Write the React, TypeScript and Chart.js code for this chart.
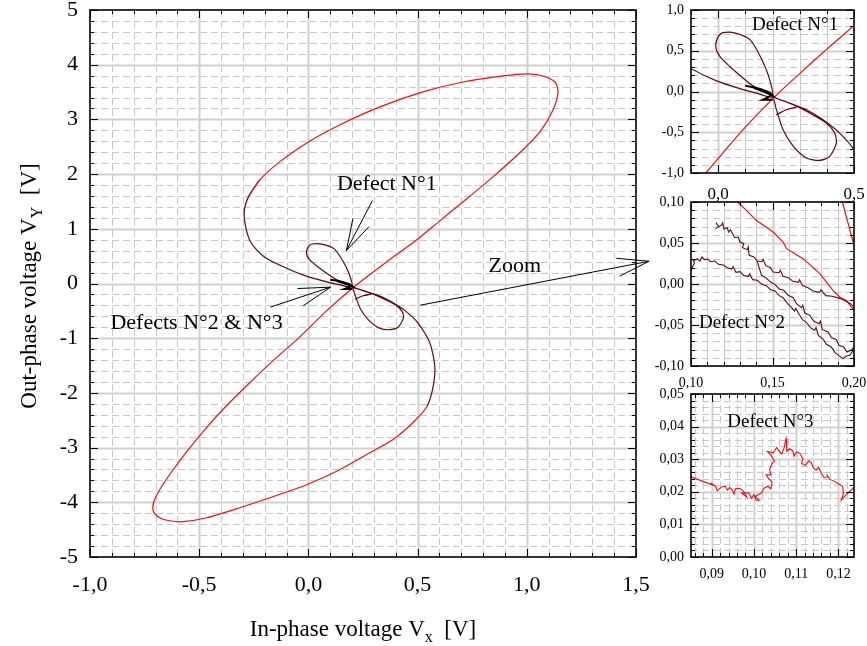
import React, { useEffect, useRef } from "react";
import { Chart, registerables } from "chart.js";

Chart.register(...registerables);

const FONT = "'Liberation Serif', 'Times New Roman', serif";
const RED = "#ee1111";
const DARK = "#5a0c0c";

type P = [number, number];

// ---------- Main impedance-plane trace (Vx, Vy) in volts ----------
// dark part: upper-left branch, the two small defect lobes, lower-right branch
const darkTrace: P[] = [
  [-0.223, 1.894], [-0.27, 1.62], [-0.293, 1.35], [-0.288, 1.05], [-0.262, 0.74],
  [-0.2, 0.48], [-0.1, 0.28], [-0.006, 0.13], [0.08, 0.035], [0.141, -0.02], [0.2, -0.065],
  [0.186, 0.184], [0.155, 0.43], [0.118, 0.633], [0.067, 0.714], [0.018, 0.722],
  [0.0, 0.673], [-0.009, 0.55], [0.006, 0.43], [0.043, 0.306], [0.092, 0.163],
  [0.141, 0.04], [0.2, -0.065],
  [0.214, -0.22], [0.239, -0.47], [0.276, -0.67], [0.325, -0.816], [0.374, -0.845],
  [0.41, -0.8], [0.435, -0.633], [0.429, -0.51], [0.398, -0.388], [0.337, -0.265],
  [0.276, -0.163], [0.2, -0.065],
  [0.263, -0.143], [0.325, -0.224], [0.386, -0.347], [0.447, -0.51], [0.501, -0.719],
  [0.556, -1.085], [0.579, -1.523], [0.57, -1.907], [0.542, -2.254],
];
// red part: rest of the big lower loop and the big upper loop
const redTrace: P[] = [
  [0.478, -2.546], [0.386, -2.857], [0.281, -3.094], [0.143, -3.405], [-0.008, -3.679],
  [-0.164, -3.898], [-0.315, -4.099], [-0.466, -4.282], [-0.576, -4.355], [-0.636, -4.337],
  [-0.681, -4.282], [-0.709, -4.172], [-0.709, -4.008], [-0.681, -3.77], [-0.626, -3.441],
  [-0.558, -3.076], [-0.475, -2.674], [-0.384, -2.272], [-0.278, -1.852], [-0.168, -1.432],
  [-0.044, -0.993], [0.08, -0.51], [0.2, -0.09], [0.3, 0.22], [0.4, 0.52], [0.5, 0.81],
  [0.6, 1.14], [0.707, 1.49], [0.845, 1.95], [0.968, 2.39], [1.06, 2.771],
  [1.12, 3.173], [1.143, 3.502], [1.129, 3.684], [1.074, 3.794], [1.0, 3.831],
  [0.89, 3.794], [0.707, 3.684], [0.524, 3.502], [0.327, 3.228], [0.143, 2.899],
  [-0.008, 2.57], [-0.132, 2.223], [-0.223, 1.894], [-0.27, 1.62],
];
const hookTrace: P[] = [[0.214, -0.286], [0.251, -0.224], [0.288, -0.192]];
const defectSmudge: P[] = [
  [0.1, 0.07], [0.135, 0.05], [0.16, 0.025], [0.19, -0.015], [0.2, -0.05], [0.17, -0.005],
  [0.13, 0.045], [0.16, 0.015], [0.195, -0.04], [0.185, -0.07], [0.165, -0.1], [0.2, -0.1],
];

// ---------- Defect N°2 zoom ----------
const d2Line1: P[] = [
  [0.1286, 0.1], [0.134, 0.0898], [0.14, 0.0776], [0.1504, 0.0634], [0.1565, 0.0512],
  [0.1586, 0.0431], [0.1688, 0.0309], [0.179, 0.0126], [0.1871, -0.0077], [0.1912, -0.0159],
  [0.1953, -0.02], [0.2, -0.0321],
];
const d2Line2: P[] = [[0.1929, 0.1], [0.2, 0.0472]];
const d2Upper: P[] = [
  [0.1153, 0.0748], [0.1169, 0.0703], [0.1161, 0.0687], [0.1188, 0.072], [0.1194, 0.0745],
  [0.1202, 0.0671], [0.1222, 0.0687], [0.1231, 0.0634], [0.1242, 0.0662], [0.1255, 0.0614],
  [0.1269, 0.0565], [0.129, 0.0573], [0.13, 0.0512], [0.1324, 0.0492], [0.1316, 0.0443],
  [0.1345, 0.0419], [0.1351, 0.0452], [0.1357, 0.035], [0.1386, 0.0329], [0.1406, 0.028],
  [0.1435, 0.0272], [0.1442, 0.0301], [0.1459, 0.0224], [0.1488, 0.0199], [0.1504, 0.0146],
  [0.1541, 0.0138], [0.1548, 0.0168], [0.1565, 0.0093], [0.1598, 0.0077], [0.1622, 0.0037],
  [0.1659, 0.002], [0.1666, 0.0051], [0.1684, -0.002], [0.1718, -0.0045], [0.1749, -0.0085],
  [0.179, -0.0102], [0.1797, -0.0071], [0.1827, -0.0142], [0.1867, -0.015], [0.1912, -0.0175],
  [0.1949, -0.0207], [0.1978, -0.024], [0.2, -0.028],
];
const d2Branch: P[] = [
  [0.1406, 0.028], [0.1418, 0.0199], [0.1433, 0.0106], [0.1459, 0.0077], [0.1488, 0.0024],
  [0.1514, -0.0004], [0.1541, -0.0061], [0.1569, -0.0077], [0.1596, -0.0138], [0.1627, -0.0167],
  [0.1647, -0.024], [0.1678, -0.0289], [0.1686, -0.026], [0.1698, -0.0354], [0.1729, -0.0382],
  [0.1753, -0.0451], [0.1786, -0.0484], [0.1794, -0.0452], [0.1806, -0.0557], [0.1841, -0.0585],
  [0.1861, -0.0654], [0.1892, -0.0679], [0.1908, -0.0748], [0.1937, -0.0768], [0.1957, -0.0829],
  [0.1986, -0.0801], [0.2, -0.0768],
];
const d2Lower: P[] = [
  [0.1, 0.0159], [0.101, 0.0215], [0.1022, 0.0256], [0.1014, 0.028], [0.1039, 0.0309],
  [0.1055, 0.028], [0.1067, 0.0329], [0.1084, 0.0297], [0.1104, 0.0305], [0.112, 0.0272],
  [0.1145, 0.028], [0.1169, 0.024], [0.1198, 0.0232], [0.1222, 0.0199], [0.1251, 0.0183],
  [0.1258, 0.0212], [0.1276, 0.0142], [0.13, 0.015], [0.1324, 0.0102], [0.1353, 0.0093],
  [0.136, 0.0125], [0.1378, 0.0053], [0.1406, 0.0045], [0.1435, -0.0004], [0.1463, -0.002],
  [0.1488, -0.0069], [0.1516, -0.0085], [0.1541, -0.0142], [0.1565, -0.0167], [0.159, -0.0232],
  [0.161, -0.0272], [0.1635, -0.0329], [0.1643, -0.0298], [0.1663, -0.037], [0.1684, -0.0435],
  [0.1708, -0.0467], [0.1733, -0.0533], [0.1759, -0.0565], [0.1767, -0.0532], [0.1782, -0.063],
  [0.181, -0.0671], [0.1831, -0.0736], [0.1861, -0.0768], [0.1882, -0.0833], [0.1908, -0.0874],
  [0.1933, -0.0911], [0.1951, -0.0882], [0.1976, -0.0866], [0.1994, -0.0809], [0.2, -0.0768],
];

// ---------- Defect N°3 zoom ----------
const d3Trace: P[] = [
  [0.0851, 0.0246], [0.0906, 0.0219], [0.0898, 0.0227], [0.0909, 0.0217], [0.0913, 0.0203],
  [0.0923, 0.0215], [0.0932, 0.0217], [0.0937, 0.0205], [0.0943, 0.0213], [0.0948, 0.0207],
  [0.0953, 0.0193], [0.0956, 0.0209], [0.0967, 0.0211], [0.0977, 0.0199], [0.0983, 0.0184],
  [0.0971, 0.0196], [0.0988, 0.0197], [0.0994, 0.018], [0.1, 0.0191], [0.1005, 0.0174],
  [0.1013, 0.0174], [0.1003, 0.0186], [0.1018, 0.0197], [0.1024, 0.0211], [0.1033, 0.0217],
  [0.104, 0.0209], [0.1043, 0.023], [0.1035, 0.024], [0.1029, 0.0252], [0.104, 0.0252],
  [0.1037, 0.0268], [0.1043, 0.0287], [0.1049, 0.0293], [0.1041, 0.0311], [0.1032, 0.0324],
  [0.1046, 0.032], [0.1054, 0.0336], [0.106, 0.0324], [0.1066, 0.0316], [0.1071, 0.0332],
  [0.1076, 0.0363], [0.1078, 0.0324], [0.1084, 0.0332], [0.1092, 0.0326], [0.1095, 0.0309],
  [0.1101, 0.0322], [0.1109, 0.0318], [0.1116, 0.0301], [0.1113, 0.0287], [0.1122, 0.0281],
  [0.113, 0.0295], [0.1136, 0.0289], [0.1141, 0.0273], [0.1147, 0.0266], [0.1153, 0.0275],
  [0.116, 0.0256], [0.1166, 0.0244], [0.1176, 0.0246], [0.1172, 0.0254], [0.118, 0.0238],
  [0.1191, 0.0232], [0.1202, 0.0223], [0.121, 0.0217], [0.1212, 0.0195], [0.1207, 0.0174],
  [0.1217, 0.0189], [0.1225, 0.0199], [0.1233, 0.0209], [0.1238, 0.0217],
];

// ---------- tick values ----------
const mainXTicks = [-1, -0.5, 0, 0.5, 1, 1.5];
const mainYTicks = [-5, -4, -3, -2, -1, 0, 1, 2, 3, 4, 5];
const z1XTicks = [0, 0.5];
const z1YTicks = [-1, -0.5, 0, 0.5, 1];
const z2XTicks = [0.1, 0.15, 0.2];
const z2YTicks = [-0.1, -0.05, 0, 0.05, 0.1];
const z3XTicks = [0.09, 0.1, 0.11, 0.12];
const z3YTicks = [0, 0.01, 0.02, 0.03, 0.04, 0.05];

const fmt = (v: number, d: number) => (Math.abs(v) < 1e-12 ? 0 : v).toFixed(d).replace(".", ",");
const pts = (a: P[]) => a.map(([x, y]) => ({ x, y }));

function line(data: P[], color: string, width = 1.2, tension = 0, extra: any = {}) {
  return {
    data: pts(data), showLine: true, borderColor: color, backgroundColor: color,
    borderWidth: width, pointRadius: 0, pointHoverRadius: 0, tension, fill: false, ...extra,
  };
}

function mainDatasets() {
  return [
    line(defectSmudge, "#000", 2),
    line(hookTrace, DARK, 1.3, 0.3),
    line([...darkTrace, ...redTrace], RED, 1.2, 0.25, {
      segment: { borderColor: (c: any) => (c.p0DataIndex < darkTrace.length - 1 ? DARK : undefined) },
    }),
  ];
}

function gridPlugin(cfg: any) {
  const each = (min: number, max: number, step: number, fn: (v: number) => void) => {
    const i0 = Math.ceil(min / step - 1e-6), i1 = Math.floor(max / step + 1e-6);
    for (let i = i0; i <= i1; i++) fn(i * step);
  };
  const isMaj = (v: number, m: number) => Math.abs(v / m - Math.round(v / m)) < 1e-6;
  return {
    id: "frameGrid",
    beforeDatasetsDraw(chart: any) {
      const { ctx, chartArea: a } = chart;
      const xs = chart.scales.x, ys = chart.scales.y;
      ctx.save();
      for (const pass of [0, 1]) {
        each(xs.min, xs.max, cfg.gx[0], (v) => {
          const maj = isMaj(v, cfg.gx[1]);
          if ((pass === 1) !== maj) return;
          const p = Math.round(xs.getPixelForValue(v)) + 0.5;
          if (p <= a.left + 1 || p >= a.right - 1) return;
          ctx.beginPath();
          ctx.setLineDash(maj || cfg.gx[2] ? [] : [7, 4]);
          ctx.lineWidth = maj ? 2 : 1;
          ctx.strokeStyle = maj ? "#d0d0d0" : "#c8c8c8";
          ctx.moveTo(p, a.top); ctx.lineTo(p, a.bottom); ctx.stroke();
        });
        each(ys.min, ys.max, cfg.gy[0], (v) => {
          const maj = isMaj(v, cfg.gy[1]);
          if ((pass === 1) !== maj) return;
          const p = Math.round(ys.getPixelForValue(v)) + 0.5;
          if (p <= a.top + 1 || p >= a.bottom - 1) return;
          ctx.beginPath();
          ctx.setLineDash(maj ? [] : [7, 4]);
          ctx.lineWidth = maj ? 2 : 1;
          ctx.strokeStyle = maj ? "#d0d0d0" : "#c8c8c8";
          ctx.moveTo(a.left, p); ctx.lineTo(a.right, p); ctx.stroke();
        });
      }
      ctx.restore();
    },
    afterDatasetsDraw(chart: any) {
      const { ctx, chartArea: a } = chart;
      const xs = chart.scales.x, ys = chart.scales.y;
      ctx.save();
      ctx.setLineDash([]);
      ctx.strokeStyle = "#000";
      ctx.lineWidth = 1;
      ctx.beginPath();
      each(xs.min, xs.max, cfg.tx[0], (v) => {
        const L = isMaj(v, cfg.tx[1]) ? 8 : 4;
        const p = Math.round(xs.getPixelForValue(v)) + 0.5;
        ctx.moveTo(p, a.bottom); ctx.lineTo(p, a.bottom - L);
        ctx.moveTo(p, a.top); ctx.lineTo(p, a.top + L);
      });
      each(ys.min, ys.max, cfg.ty[0], (v) => {
        const L = isMaj(v, cfg.ty[1]) ? 8 : 4;
        const p = Math.round(ys.getPixelForValue(v)) + 0.5;
        ctx.moveTo(a.left, p); ctx.lineTo(a.left + L, p);
        ctx.moveTo(a.right, p); ctx.lineTo(a.right - L, p);
      });
      ctx.stroke();
      ctx.lineWidth = 1.6;
      ctx.strokeRect(a.left, a.top, a.right - a.left, a.bottom - a.top);
      ctx.restore();
    },
  };
}

function decorPlugin(draw: (ctx: CanvasRenderingContext2D, chart: any) => void) {
  return {
    id: "decor",
    afterDraw(chart: any) {
      const ctx = chart.ctx;
      ctx.save();
      ctx.fillStyle = "#000";
      ctx.strokeStyle = "#000";
      ctx.lineWidth = 1;
      draw(ctx, chart);
      ctx.restore();
    },
  };
}

function text(ctx: CanvasRenderingContext2D, t: string, x: number, y: number, size: number, align: CanvasTextAlign = "center") {
  ctx.font = `${size}px ${FONT}`;
  ctx.textAlign = align;
  ctx.textBaseline = "middle";
  ctx.fillText(t, x, y);
}

function richText(ctx: CanvasRenderingContext2D, parts: { t: string; sub?: boolean }[], cx: number, cy: number, size: number) {
  const subSize = Math.round(size * 0.68);
  let total = 0;
  for (const p of parts) {
    ctx.font = `${p.sub ? subSize : size}px ${FONT}`;
    total += ctx.measureText(p.t).width;
  }
  let x = cx - total / 2;
  ctx.textAlign = "left";
  ctx.textBaseline = "alphabetic";
  for (const p of parts) {
    ctx.font = `${p.sub ? subSize : size}px ${FONT}`;
    ctx.fillText(p.t, x, cy + size * 0.35 + (p.sub ? size * 0.28 : 0));
    x += ctx.measureText(p.t).width;
  }
}

function arrow(ctx: CanvasRenderingContext2D, tail: number[], tip: number[], len = 33, ang = 16) {
  const a = Math.atan2(tail[1] - tip[1], tail[0] - tip[0]);
  ctx.beginPath();
  ctx.moveTo(tail[0], tail[1]);
  ctx.lineTo(tip[0], tip[1]);
  for (const s of [-1, 1]) {
    const b = a + (s * ang * Math.PI) / 180;
    ctx.moveTo(tip[0], tip[1]);
    ctx.lineTo(tip[0] + len * Math.cos(b), tip[1] + len * Math.sin(b));
  }
  ctx.stroke();
}

// annotation anchors, in main-chart data units
const noteDefect1 = { text: "Defect N°1", at: [0.359, 1.821] as P, tail: [0.293, 1.516] as P, tip: [0.174, 0.602] as P };
const noteDefect23 = { text: "Defects N°2 & N°3", at: [-0.118, -0.719] as P, tail: [-0.174, -0.432] as P, tip: [0.101, -0.067] as P };
const noteZoom = { text: "Zoom", at: [0.945, 0.322] as P, tail: [0.512, -0.397] as P, tip: [1.56, 0.407] as P };

function axis(a: any, dir: "x" | "y", size: number) {
  return {
    type: "linear", min: a.min, max: a.max,
    grid: { display: false, drawTicks: false },
    border: { display: false },
    ticks: {
      color: "#000", font: { family: FONT, size: a.font }, padding: a.pad,
      autoSkip: false, maxRotation: 0, minRotation: 0,
      callback: (v: number) => fmt(v, a.dec),
    },
    afterBuildTicks: (s: any) => { s.ticks = a.ticks.map((v: number) => ({ value: v })); },
    afterFit: (s: any) => {
      if (dir === "x") s.height = size; else s.width = size;
      s.paddingLeft = 0; s.paddingRight = 0; s.paddingTop = 0; s.paddingBottom = 0;
    },
  };
}

function config(o: any) {
  return {
    type: "scatter",
    data: { datasets: o.datasets },
    options: {
      animation: false, responsive: false, devicePixelRatio: 1, events: [],
      layout: { padding: o.pad },
      plugins: { legend: { display: false }, tooltip: { enabled: false } },
      scales: { x: axis(o.x, "x", o.xh), y: axis(o.y, "y", o.yw) },
    },
    plugins: [gridPlugin(o.grid), decorPlugin(o.decor)],
  };
}

function ChartBox({ make, left, top, width, height }: any) {
  const ref = useRef<HTMLCanvasElement>(null);
  useEffect(() => {
    const ch = new Chart(ref.current as HTMLCanvasElement, make() as any);
    return () => ch.destroy();
  }, []);
  return (
    <canvas ref={ref} width={width} height={height}
      style={{ position: "absolute", left, top, width, height }} />
  );
}

const mainCfg = () => config({
  datasets: mainDatasets(),
  pad: { left: 0, top: 10, right: 231, bottom: 0 },
  x: { min: -1, max: 1.5, ticks: mainXTicks, dec: 1, font: 22, pad: 15 },
  y: { min: -5, max: 5, ticks: mainYTicks, dec: 0, font: 22, pad: 12 },
  xh: 89, yw: 90,
  grid: { gx: [0.1, 0.5], gy: [0.2, 1], tx: [0.1, 0.5], ty: [0.2, 1] },
  decor: (ctx: CanvasRenderingContext2D, chart: any) => {
    const xs = chart.scales.x, ys = chart.scales.y;
    const px = (p: P) => [xs.getPixelForValue(p[0]), ys.getPixelForValue(p[1])];
    for (const n of [noteDefect1, noteDefect23, noteZoom]) {
      const at = px(n.at);
      text(ctx, n.text, at[0], at[1], 22, n === noteDefect23 ? "right" : "center");
      arrow(ctx, px(n.tail), px(n.tip));
    }
    richText(ctx, [{ t: "In-phase voltage V" }, { t: "x", sub: true }, { t: "  [V]" }], 363, 628, 23);
    ctx.save();
    ctx.translate(28, 286);
    ctx.rotate(-Math.PI / 2);
    richText(ctx, [{ t: "Out-phase voltage V" }, { t: "Y", sub: true }, { t: "  [V]" }], 0, 0, 23);
    ctx.restore();
  },
});

const insetText = (t: string, at: P, size = 19) => (ctx: CanvasRenderingContext2D, chart: any) => {
  text(ctx, t, chart.scales.x.getPixelForValue(at[0]), chart.scales.y.getPixelForValue(at[1]), size);
};

const zoom1Cfg = () => config({
  datasets: mainDatasets(),
  pad: { left: 0, top: 10, right: 13, bottom: 0 },
  x: { min: -0.1, max: 0.5, ticks: z1XTicks, dec: 1, font: 17, pad: 11 },
  y: { min: -1, max: 1, ticks: z1YTicks, dec: 1, font: 14, pad: 7 },
  xh: 30, yw: 64,
  grid: { gx: [0.1, 0.5, true], gy: [0.1, 0.5], tx: [0.1, 0.5], ty: [0.1, 0.5] },
  decor: insetText("Defect N°1", [0.283, 0.816]),
});

const zoom2Cfg = () => config({
  datasets: [
    line(d2Upper, DARK, 1.1), line(d2Branch, DARK, 1.1), line(d2Lower, DARK, 1.1),
    line(d2Line1, RED, 1.2), line(d2Line2, RED, 1.2),
  ],
  pad: { left: 0, top: 10, right: 13, bottom: 0 },
  x: { min: 0.1, max: 0.2, ticks: z2XTicks, dec: 2, font: 14, pad: 9 },
  y: { min: -0.1, max: 0.1, ticks: z2YTicks, dec: 2, font: 14, pad: 7 },
  xh: 30, yw: 64,
  grid: { gx: [0.01, 0.05, true], gy: [0.01, 0.05], tx: [0.01, 0.05], ty: [0.01, 0.05] },
  decor: insetText("Defect N°2", [0.1313, -0.0476]),
});

const zoom3Cfg = () => config({
  datasets: [line(d3Trace, RED, 1.1)],
  pad: { left: 0, top: 10, right: 13, bottom: 0 },
  x: { min: 0.0851, max: 0.1237, ticks: z3XTicks, dec: 2, font: 14, pad: 9 },
  y: { min: 0, max: 0.05, ticks: z3YTicks, dec: 2, font: 14, pad: 7 },
  xh: 30, yw: 64,
  grid: { gx: [0.002, 0.01], gy: [0.002, 0.01], tx: [0.002, 0.01], ty: [0.002, 0.01] },
  decor: insetText("Defect N°3", [0.1039, 0.0414]),
});

export default function App() {
  return (
    <div style={{ position: "absolute", left: 0, top: 0, width: 867, height: 646, background: "#fff" }}>
      <ChartBox make={mainCfg} left={0} top={0} width={867} height={646} />
      <ChartBox make={zoom1Cfg} left={627} top={0} width={240} height={203} />
      <ChartBox make={zoom2Cfg} left={627} top={192} width={240} height={204} />
      <ChartBox make={zoom3Cfg} left={627} top={384} width={240} height={203} />
    </div>
  );
}
